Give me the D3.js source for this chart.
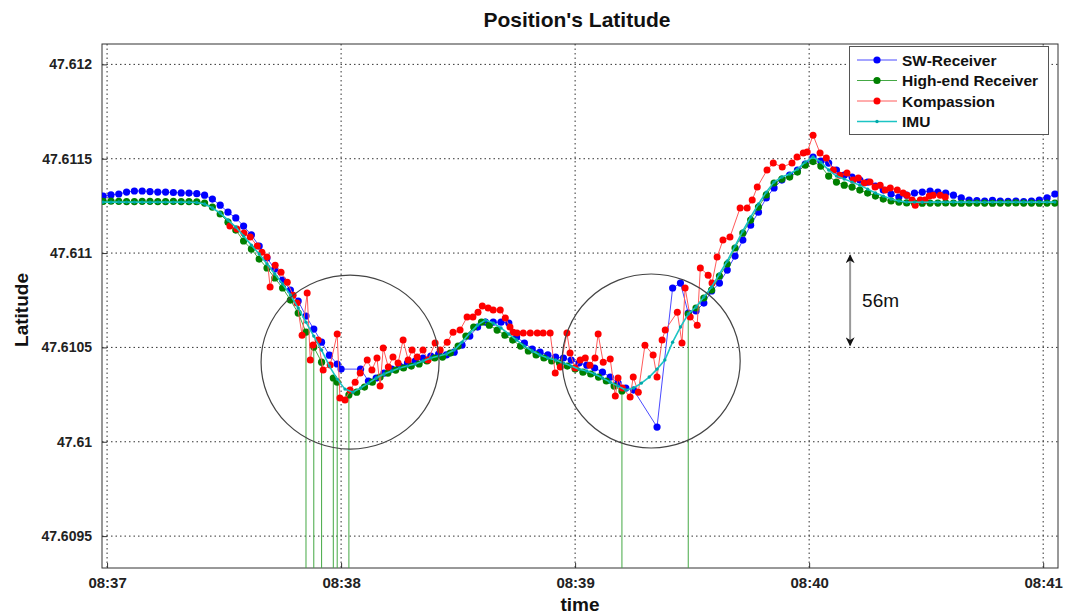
<!DOCTYPE html>
<html>
<head>
<meta charset="utf-8">
<script src="https://cdn.jsdelivr.net/npm/d3@7"></script>
<style>
    body { margin: 0; background: #fff; }
    text { font-family: "Liberation Sans", Arial, sans-serif; }
</style>
<title>Position's Latitude</title>
</head>
<body>
<svg width="1067" height="616"></svg>
<script>
// time is in seconds after 08:37:00, latitude in degrees
var swTime = [-1,1,3,5,7,9,11,13,15,17,19,21,23,25,27,29,31,33,35,37,39,41,43,45,47,49,51,53,55,57,59,60,
    65,67,69,71,73,75,77,79,81,83,85,87,89,91,93,95,97,99,101,103,105,107,109,111,113,115,117,119,121,123,125,127,129,131,133,135,
    141,145,147,
    149,151,153,155,157,159,161,163,165,167,169,171,173,175,177,179,181,183,185,187,189,191,193,195,197,199,201,203,205,207,209,211,213,215,217,219,221,223,225,227,229,231,233,235,237,239,241,243];
var swLat = [47.611302,47.611308,47.611313,47.611323,47.611329,47.611329,47.611326,47.611323,47.611323,47.611321,47.611319,47.611318,47.611315,
    47.611307,47.611286,47.611254,47.611217,47.611186,47.611143,47.611096,47.611037,47.610974,47.610915,47.610857,47.610804,47.610746,47.610666,47.610597,47.610528,47.610459,47.610412,47.610385,
    47.610385,47.610322,47.610338,47.610364,47.610385,47.610401,47.610417,47.610428,47.610444,47.610454,47.610465,47.61046,47.610475,47.610512,47.61056,47.610608,47.610634,47.610634,47.610634,47.610629,
    47.610555,47.610523,47.610491,47.610475,47.61046,47.610449,47.610444,47.610433,47.610417,47.610406,47.610391,47.610369,47.610343,47.610311,47.610285,47.610274,
    47.610078,47.610815,47.610841,
    47.610682,47.610693,47.610735,47.610799,47.610841,47.61091,47.610984,47.611069,47.611148,47.611217,47.611292,47.611345,47.611387,47.611413,47.61144,47.611472,
    47.611509,47.611488,47.611477,47.61144,47.611413,47.611403,47.611387,47.611376,47.611355,47.611334,47.611313,47.611297,47.611307,47.611318,47.611323,47.611329,
    47.611323,47.611318,47.611307,47.611292,47.611281,47.611278,47.611276,47.611279,47.611276,47.611274,47.611276,47.611273,47.611276,47.611281,47.611292,47.611313];

// high-end receiver reports 0 when it has no fix
var highEndTime = [-1,1,3,5,7,9,11,13,15,17,19,21,23,25,27,29,31,33,35,37,39,41,43,45,47,49,51,
    52,53,55,56.5,58,59,60.5,
    62,64,66,68,70,72,74,76,78,80,82,84,86,88,90,92,94,96,98,100,102,104,106,108,110,112,114,116,118,120,122,124,126,128,130,132,
    134,140,146,
    149,151,153,155,157,159,161,163,165,167,169,171,173,175,177,179,181,183,185,187,189,191,193,195,197,199,201,203,205,207,209,211,213,215,217,219,221,223,225,227,229,231,233,235,237,239,241,243];
var highEndLat = [47.611274,47.611275,47.611274,47.611273,47.611273,47.611274,47.611274,47.611273,47.611273,47.611274,47.611273,47.611273,47.611272,
    47.611265,47.611244,47.611207,47.611164,47.611122,47.611064,47.611021,47.610968,47.610921,47.610868,47.610815,47.610751,47.610682,47.610581,
    0,47.610502,47.610422,0,47.610338,47.610316,0,
    47.610248,47.610263,47.61029,47.610316,47.610343,47.610364,47.61038,47.610391,47.610401,47.610412,47.610428,47.610444,47.610449,47.61047,47.610507,47.61056,47.610608,47.610634,
    47.610618,47.610592,47.610565,47.610539,47.610507,47.610481,47.61046,47.610444,47.610428,47.610417,47.610401,47.610385,47.610369,47.610359,47.610343,47.610322,47.610295,47.610269,
    0,0,0,
    47.610677,47.610709,47.610762,47.610804,47.610878,47.610942,47.611027,47.611106,47.611175,47.611244,47.611308,47.611371,47.611392,47.611403,47.611429,47.611466,
    47.611485,47.611461,47.611408,47.611376,47.61136,47.61135,47.611334,47.611318,47.611302,47.611286,47.611276,47.61127,47.611266,
    47.611265,47.611264,47.611265,47.611265,47.611266,47.611265,47.611264,47.611265,47.611265,47.611265,47.611264,47.611265,47.611265,47.611266,47.611265,47.611265,47.611264,47.611265,47.611265];

var kompassionTime = [31.5,33.3,35.1,36.7,38.5,39.7,41.0,41.8,43.1,44.6,46.2,47.7,48.7,50.0,51.3,52.1,52.8,54.1,55.4,57.2,
    59.0,59.7,61.0,62.3,63.6,64.9,66.7,67.9,69.2,70.0,70.8,72.1,73.3,74.6,75.9,77.2,78.2,79.5,81.0,82.3,
    84.1,85.4,87.2,88.7,90.5,92.3,93.8,95.1,96.2,97.7,99.0,100.8,102.1,103.3,104.1,105.1,106.7,108.5,110.3,111.8,
    113.6,114.9,116.2,117.9,118.7,120.0,121.3,122.6,123.8,125.1,125.9,127.2,129.0,130.3,131.0,132.1,134.1,134.9,136.2,137.9,
    140.0,141.0,142.3,143.1,146.2,147.4,148.2,149.5,151.3,152.1,154.1,155.1,156.4,157.9,159.7,162.3,164.1,165.4,166.7,169.2,
    170.8,173.1,175.6,176.9,178.5,179.5,181.0,182.8,184.4,186.2,187.9,189.7,191.3,192.6,194.1,195.6,196.9,198.2,199.5,200.8,
    202.6,204.1,205.1,206.4,207.2,208.5,209.7,210.8,211.8,213.6,214.9];
var kompassionLat = [47.611143,47.611127,47.611106,47.611085,47.611037,47.611005,47.610979,47.61082,47.610936,47.610899,
    47.610846,47.610777,47.610735,47.610565,47.610788,47.610433,47.610513,47.610539,47.61038,47.610407,
    47.610571,47.610232,47.610221,47.610274,47.610316,47.610364,47.610433,47.61038,47.610444,47.610295,
    47.610497,47.610396,47.610449,47.610417,47.610539,47.610433,47.610486,47.610449,47.610486,47.610433,
    47.610523,47.610486,47.610528,47.610581,47.610592,47.610661,47.610661,47.610687,47.610719,47.610709,
    47.610698,47.610698,47.610656,47.610608,47.610581,47.610576,47.610576,47.610576,47.610576,47.610576,
    47.610576,47.610364,47.610396,47.610576,47.61047,47.610391,47.610433,47.610444,47.610406,47.610444,
    47.610571,47.610422,47.610438,47.610242,47.610338,47.610285,47.610237,47.610343,47.610263,47.610512,
    47.61046,47.610343,47.610539,47.610592,47.610687,47.610523,47.610815,47.610661,47.610618,47.610921,
    47.610883,47.610841,47.610979,47.611069,47.611085,47.611239,47.611239,47.611281,47.61135,47.61144,
    47.611477,47.611456,47.611477,47.611509,47.61153,47.611535,47.611625,47.61153,47.611504,47.61144,
    47.611413,47.611424,47.611387,47.611398,47.611371,47.611376,47.61135,47.61136,47.611334,47.611345,
    47.611334,47.611318,47.611307,47.611281,47.611254,47.611281,47.611281,47.611302,47.611307,47.611307,47.611297];

var imuTime = [-1,1,3,5,7,9,11,13,15,17,19,21,23,25,27,29,31,33,35,37,39,41,43,45,47,49,51,53,55,57,59,
    61,63,65,67,69,71,73,75,77,79,81,83,85,87,89,91,93,95,97,99,101,103,105,107,109,111,113,115,117,119,121,123,125,127,129,131,133,135,
    137,139,141,143,145,147,149,151,153,155,157,159,161,163,165,167,169,171,173,175,177,179,181,183,185,187,189,191,193,195,197,199,201,203,
    205,207,209,211,213,215,217,219,221,223,225,227,229,231,233,235,237,239,241,243];
var imuLat = [47.61127,47.61127,47.611271,47.61127,47.61127,47.61127,47.611269,47.61127,47.61127,47.61127,47.61127,47.611269,47.611268,
    47.61126,47.611239,47.611212,47.611175,47.611138,47.61109,47.611042,47.610995,47.610942,47.610889,47.610836,47.610778,47.610709,47.610634,47.61056,47.610486,47.610401,47.610332,
    47.610279,47.610263,47.610285,47.610311,47.610338,47.610359,47.610375,47.610391,47.610401,47.610412,47.610428,47.610444,47.610454,47.610465,47.610486,47.610528,47.610576,47.610618,47.610645,
    47.610629,47.610603,47.610571,47.610539,47.610507,47.610481,47.61046,47.610444,47.610433,47.610417,47.610401,47.610385,47.610375,47.610359,47.610338,47.610316,47.610295,47.610274,47.610285,
    47.610311,47.610343,47.610385,47.610433,47.610528,47.610608,47.610677,47.610714,47.610767,47.61082,47.610889,47.610958,47.611037,47.611117,47.611191,47.61126,47.611323,
    47.611376,47.611403,47.611419,47.611445,47.611482,47.611509,47.611482,47.61144,47.611408,47.611392,47.611376,47.61136,47.611339,47.611318,47.611302,47.611286,47.611276,
    47.61127,47.61127,47.611269,47.61127,47.61127,47.61127,47.611271,47.61127,47.61127,47.61127,47.611269,47.61127,47.61127,47.61127,47.61127,47.611271,47.61127,47.61127,47.61127,47.61127];

var seriesNames = ["SW-Receiver", "High-end Receiver", "Kompassion", "IMU"];
var timeTicks = ["08:37", "08:38", "08:39", "08:40", "08:41"];
var latTicks = [47.6095, 47.61, 47.6105, 47.611, 47.6115, 47.612];

// annotations: circled regions and the 56 m marker
var circleTime = [62.3, 139.5];
var circleLat = [47.610422, 47.610428];
var rulerTime = 190.5;
var rulerLat = [47.611, 47.6105];

var svg = d3.select("svg"),
    plotLeft = 102, plotRight = 1058, plotTop = 44, plotBottom = 568;

var parseClock = d3.timeParse("%H:%M:%S");
var start = parseClock("08:37:00");
function at(s) { return new Date(start.getTime() + s * 1000); }

var x = d3.scaleTime().domain([at(-1.3), at(243.8)]).range([plotLeft, plotRight]);
var y = d3.scaleLinear().domain([47.609331, 47.612108]).range([plotBottom, plotTop]);

var tickDates = timeTicks.map(function (s) { return parseClock(s + ":00"); });

function pairs(t, v) { return t.map(function (d, i) { return [d, v[i]]; }); }

var series = [
    { name: seriesNames[0], data: pairs(swTime, swLat), line: "#4a4aff", dot: "#0000ff", r: 3.6, w: 1 },
    { name: seriesNames[1], data: pairs(highEndTime, highEndLat), line: "#44a844", dot: "#008000", r: 3.6, w: 1 },
    { name: seriesNames[2], data: pairs(kompassionTime, kompassionLat), line: "#ff5a5a", dot: "#ff0000", r: 3.5, w: 1 },
    { name: seriesNames[3], data: pairs(imuTime, imuLat), line: "#1cc4c4", dot: "#00a8a8", r: 1.7, w: 1.6 }
];

var defs = svg.append("defs");
defs.append("clipPath").attr("id", "plot")
    .append("rect").attr("x", plotLeft).attr("y", plotTop)
    .attr("width", plotRight - plotLeft).attr("height", plotBottom - plotTop);

// dotted grid
var grid = svg.append("g").attr("stroke", "#333").attr("stroke-width", 1).attr("stroke-dasharray", "1.5,3");
grid.selectAll(".gx").data(tickDates).enter().append("line")
    .attr("x1", function (d) { return x(d); }).attr("x2", function (d) { return x(d); })
    .attr("y1", plotTop).attr("y2", plotBottom);
grid.selectAll(".gy").data(latTicks).enter().append("line")
    .attr("x1", plotLeft).attr("x2", plotRight)
    .attr("y1", function (d) { return y(d); }).attr("y2", function (d) { return y(d); });

// axes
var xAxis = svg.append("g").attr("transform", "translate(0," + plotBottom + ")")
    .call(d3.axisBottom(x).tickValues(tickDates).tickFormat(d3.timeFormat("%H:%M")).tickSizeInner(-5).tickSizeOuter(0).tickPadding(9));
var yAxis = svg.append("g").attr("transform", "translate(" + plotLeft + ",0)")
    .call(d3.axisLeft(y).tickValues(latTicks).tickFormat(d3.format("~g")).tickSizeInner(-5).tickSizeOuter(0).tickPadding(10));
[xAxis, yAxis].forEach(function (a) {
    a.select(".domain").remove();
    a.selectAll("line").attr("stroke", "#333");
    a.selectAll("text").attr("font-weight", "bold").attr("fill", "#222")
        .style("font-family", "'Liberation Sans', Arial, sans-serif");
});
xAxis.selectAll("text").attr("font-size", 15);
yAxis.selectAll("text").attr("font-size", 14);

svg.append("rect").attr("x", plotLeft).attr("y", plotTop)
    .attr("width", plotRight - plotLeft).attr("height", plotBottom - plotTop)
    .attr("fill", "none").attr("stroke", "#333").attr("stroke-width", 1);

// data
var plot = svg.append("g").attr("clip-path", "url(#plot)");
var line = d3.line()
    .x(function (d) { return x(at(d[0])); })
    .y(function (d) { return y(d[1]); });

series.forEach(function (s) {
    var g = plot.append("g");
    g.append("path").datum(s.data).attr("d", line)
        .attr("fill", "none").attr("stroke", s.line).attr("stroke-width", s.w);
    g.selectAll("circle").data(s.data.filter(function (d) { return d[1] > 0; })).enter().append("circle")
        .attr("cx", function (d) { return x(at(d[0])); })
        .attr("cy", function (d) { return y(d[1]); })
        .attr("r", s.r).attr("fill", s.dot);
});

// circled regions
svg.selectAll(".ring").data(circleTime).enter().append("ellipse")
    .attr("cx", function (d) { return x(at(d)); })
    .attr("cy", function (d, i) { return y(circleLat[i]); })
    .attr("rx", 89).attr("ry", 87)
    .attr("fill", "none").attr("stroke", "#444").attr("stroke-width", 1.2);

// 56 m ruler
defs.append("marker").attr("id", "head")
    .attr("viewBox", "0 0 10 10").attr("refX", 9).attr("refY", 5)
    .attr("markerWidth", 4.5).attr("markerHeight", 4.5).attr("orient", "auto-start-reverse")
    .append("path").attr("d", "M0,0 L10,5 L0,10 L3,5 Z").attr("fill", "#111");
svg.append("line")
    .attr("x1", x(at(rulerTime))).attr("x2", x(at(rulerTime)))
    .attr("y1", y(rulerLat[0]) + 2).attr("y2", y(rulerLat[1]) - 2)
    .attr("stroke", "#999").attr("stroke-width", 2)
    .attr("marker-start", "url(#head)").attr("marker-end", "url(#head)");
svg.append("text").attr("x", x(at(rulerTime)) + 12).attr("y", (y(rulerLat[0]) + y(rulerLat[1])) / 2 + 7)
    .attr("font-size", 19).attr("fill", "#111").text("56m");

// legend
var legend = svg.append("g");
legend.append("rect").attr("x", 849.5).attr("y", 46.5).attr("width", 199).attr("height", 88)
    .attr("fill", "#fff").attr("stroke", "#555");
series.forEach(function (s, i) {
    var ly = 60 + i * 20.5;
    legend.append("line").attr("x1", 857).attr("x2", 897).attr("y1", ly).attr("y2", ly)
        .attr("stroke", s.line).attr("stroke-width", s.w);
    legend.append("circle").attr("cx", 877).attr("cy", ly).attr("r", s.r).attr("fill", s.dot);
    legend.append("text").attr("x", 902).attr("y", ly).attr("dy", "0.36em")
        .attr("font-size", 15.5).attr("font-weight", "bold").attr("fill", "#111").text(s.name);
});

// titles
svg.append("text").attr("x", 577).attr("y", 27).attr("text-anchor", "middle")
    .attr("font-size", 21).attr("font-weight", "bold").attr("fill", "#111").text("Position's Latitude");
svg.append("text").attr("x", 580).attr("y", 611).attr("text-anchor", "middle")
    .attr("font-size", 19).attr("font-weight", "bold").attr("fill", "#111").text("time");
svg.append("text").attr("transform", "translate(28,310) rotate(-90)").attr("text-anchor", "middle")
    .attr("font-size", 19).attr("font-weight", "bold").attr("fill", "#111").text("Latitude");
</script>
</body>
</html>
